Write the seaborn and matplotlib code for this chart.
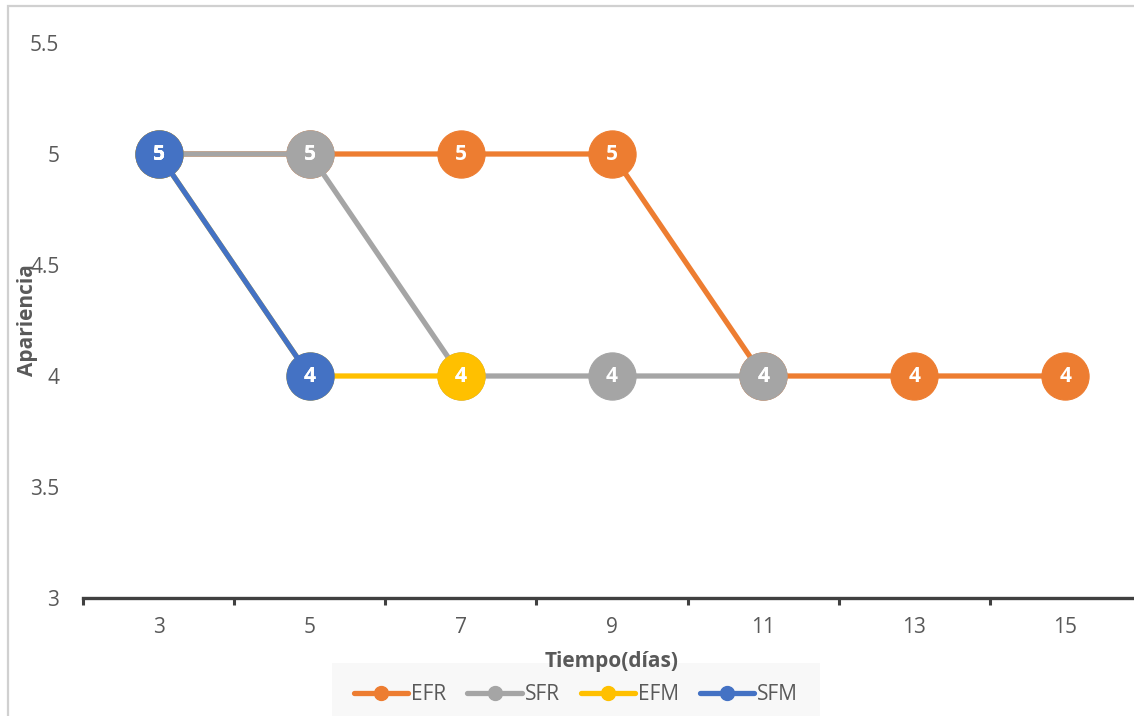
import numpy as np
import pandas as pd
import matplotlib
matplotlib.use("Agg")
import matplotlib.pyplot as plt
from matplotlib.lines import Line2D
from matplotlib.patches import Rectangle
import seaborn as sns

# Sampling days (categorical x axis)
dias = ["3", "5", "7", "9", "11", "13", "15"]

# Appearance scores per treatment
efr = [5, 5, 5, 5, 4, 4, 4]
sfr = [5, 5, 4, 4, 4]
efm = [5, 4, 4]
sfm = [5, 4]

series_names = ["EFR", "SFR", "EFM", "SFM"]
series_values = [efr, sfr, efm, sfm]
colors = ["#ED7D31", "#A5A5A5", "#FFC000", "#4472C4"]

rows = []
for name, vals in zip(series_names, series_values):
    for i, v in enumerate(vals):
        rows.append({"pos": i, "dia": dias[i], "serie": name, "valor": v})
df = pd.DataFrame(rows)

sns.set_theme(style="white")
plt.rcParams["font.family"] = ["Open Sans", "DejaVu Sans"]
text_color = "#595959"

W, H = 1134, 716
fig = plt.figure(figsize=(W / 100, H / 100), dpi=100)
ax = fig.add_axes([83 / W, 1 - 598 / H, 1058 / W, (598 - 43) / H])

for name, col in zip(series_names, colors):
    sub = df[df["serie"] == name]
    sns.lineplot(data=sub, x="pos", y="valor", ax=ax, color=col, linewidth=3.8,
                 marker="o", markersize=34, markeredgecolor=col,
                 markeredgewidth=0.8, legend=False, zorder=3)

# Data labels inside the markers
for name, vals in zip(series_names, series_values):
    for i, v in enumerate(vals):
        ax.text(i, v, f"{v:g}", ha="center", va="center", color="white",
                fontsize=15, fontweight="bold", zorder=5)

ax.set_xlim(-0.5, len(dias) - 0.5)
ax.set_ylim(3, 5.5)
ax.set_yticks([3, 3.5, 4, 4.5, 5, 5.5])
ax.set_yticklabels(["3", "3.5", "4", "4.5", "5", "5.5"])
ax.set_xticks(range(len(dias)))
ax.set_xticklabels(dias)
ax.set_xticks(np.arange(-0.5, len(dias), 1.0), minor=True)

for s in ["top", "right", "left"]:
    ax.spines[s].set_visible(False)
ax.spines["bottom"].set_color("#404040")
ax.spines["bottom"].set_linewidth(2.4)

ax.tick_params(axis="x", which="major", bottom=True, length=0, pad=14,
               labelsize=15, labelcolor=text_color)
ax.tick_params(axis="x", which="minor", bottom=True, direction="out",
               length=5, width=2.2, color="#404040")
ax.tick_params(axis="y", length=0, pad=17, labelsize=15, labelcolor=text_color)
ax.grid(False)

ax.set_xlabel("")
ax.set_ylabel("Apariencia", fontsize=15, fontweight="bold", color=text_color)
ax.yaxis.set_label_coords((38 - 83) / 1058, (598 - 320) / 555)

fig.text(612 / W, 1 - 662 / H, "Tiempo(días)", ha="center", va="center",
         fontsize=15, fontweight="bold", color=text_color, zorder=3)

handles = [Line2D([0], [0], color=c, linewidth=3.8, marker="o", markersize=10)
           for c in colors]
leg = fig.legend(handles, series_names, loc="center", ncol=4,
                 bbox_to_anchor=(576 / W, 1 - 695 / H), frameon=True,
                 fontsize=15, handlelength=2.6, handletextpad=0.15,
                 columnspacing=1.0, borderpad=1.05, borderaxespad=0,
                 labelcolor=text_color)
leg.get_frame().set_facecolor("#F7F7F7")
leg.get_frame().set_edgecolor("none")
leg.get_frame().set_boxstyle("square", pad=0)
leg.set_zorder(0)

# Chart area border
fig.patches.append(Rectangle((8 / W, -0.2), 1.3, 1.2 - 6 / H, transform=fig.transFigure,
                             fill=False, edgecolor="#D0D0D0", linewidth=1.6))

fig.savefig("out.png", dpi=100)
